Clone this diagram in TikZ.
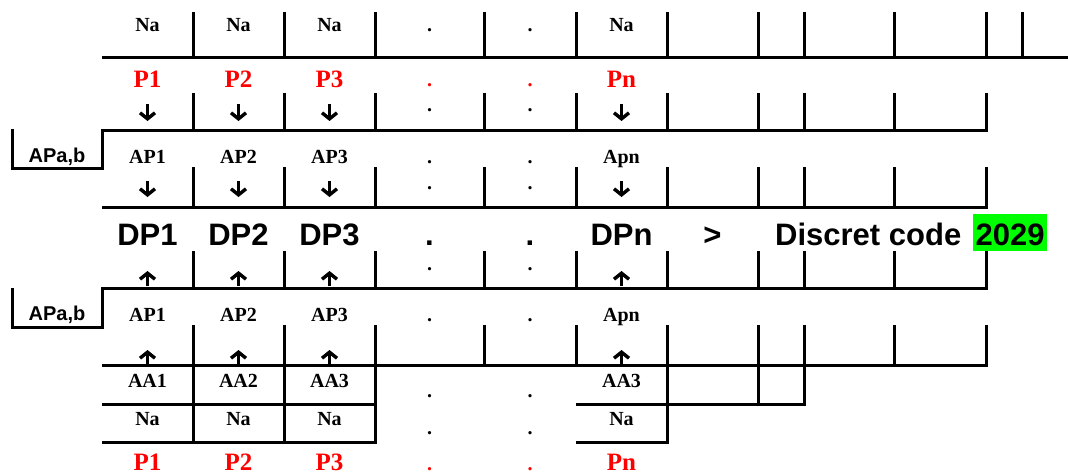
\documentclass[tikz,border=0pt]{standalone}
\usepackage{fontspec}
\setmainfont{Liberation Serif}
\newfontfamily\arialfont{Liberation Sans}
\usepackage{xcolor}
\usetikzlibrary{arrows.meta}
\tikzstyle{txt}=[anchor=base,inner sep=0pt,font=\bfseries\fontsize{20}{20}\selectfont]
\tikzstyle{redtxt}=[txt,text=red,font=\bfseries\fontsize{25}{25}\selectfont]
\tikzstyle{tag}=[anchor=base,inner sep=0pt,font=\arialfont\bfseries\fontsize{20}{20}\selectfont]
\tikzstyle{big}=[anchor=base,inner sep=0pt,font=\arialfont\bfseries\fontsize{31}{31}\selectfont]
\tikzstyle{pointer}=[draw,line width=3.4pt,-{Straight Barb[length=6pt,width=15pt]}]
\tikzstyle{bar}=[draw,line width=3pt]

\begin{document}
\begin{tikzpicture}[x=1pt,y=-1pt]
  \useasboundingbox (0,0) rectangle (1068,474);

  % top row, open to the right
  \path[bar] (102,57) -- (1068,57);
  \foreach \x in {193,284,375,484,576,667,758,804,894,986,1022}
    \path[bar] (\x,12) -- (\x,57);

  % rows closed at 986, with the APa,b boxes on the left
  \path[bar] (986,93) |- (102,130) -- (102,168) -| (12,129);
  \path[bar] (986,167) |- (102,207);
  \path[bar] (986,251) |- (102,288) -- (102,327) -| (12,288);
  \path[bar] (986,325) |- (102,365);
  \foreach \top/\bot in {93/130,167/207,251/288,325/365}
    \foreach \x in {193,284,375,484,576,667,758,804,894}
      \path[bar] (\x,\top) -- (\x,\bot);

  % AA and Na cells at the bottom
  \path[bar] (102,404) -- (375,404);
  \path[bar] (102,442) -| (375,365);
  \foreach \x in {193,284}
    \path[bar] (\x,365) -- (\x,442);
  \path[bar] (576,442) -| (667,365);
  \path[bar] (576,404) -| (804,365);
  \path[bar] (758,365) -- (758,404);

  % the columns 1..3 and n
  \foreach \x/\i/\ap/\aa in {147.5/1/AP1/AA1,238.5/2/AP2/AA2,329.5/3/AP3/AA3,621.5/n/Apn/AA3}{
    \node[txt] (na\i) at (\x,31) {Na};
    \node[redtxt] (p\i) at (\x,87) {P\i};
    \node[txt] (ap\i) at (\x,163) {\ap};
    \node[big] (dp\i) at (\x,245) {DP\i};
    \node[txt] (apl\i) at (\x,321) {\ap};
    \node[txt] (aa\i) at (\x,387) {\aa};
    \node[txt] (nal\i) at (\x,425) {Na};
    \node[redtxt] (pl\i) at (\x,470) {P\i};
    % down and up pointers
    \path[pointer] (\x,104) -- (\x,121);
    \path[pointer] (\x,181) -- (\x,197);
    \path[pointer] (\x,286) -- (\x,271);
    \path[pointer] (\x,365) -- (\x,350);
  }

  % dotted columns
  \foreach \x/\c in {429.5/a,530/b}{
    \foreach \y/\k in {31/1,111.5/2,163/3,189.5/4,270.5/5,321/6,397/7,434.5/8}
      \node[txt] (dot\c\k) at (\x,\y) {.};
    \node[txt,text=red] (rdot\c) at (\x,86) {.};
    \node[txt,text=red] (rdotl\c) at (\x,470) {.};
    \node[big] (bdot\c) at (\x,245) {.};
  }

  % side labels
  \node[tag] (apab) at (57,162) {APa,b};
  \node[tag] (apabl) at (57,320) {APa,b};

  % result
  \node[big] (gt) at (712.5,245) {>};
  \node[big,anchor=base west] (code) at (775,245) {Discret code};
  \node[big,anchor=base west,fill=green,inner xsep=2.5pt,inner ysep=0pt,
        text height=31pt,text depth=6pt] (num) at (973,245) {2029};
\end{tikzpicture}
\end{document}
